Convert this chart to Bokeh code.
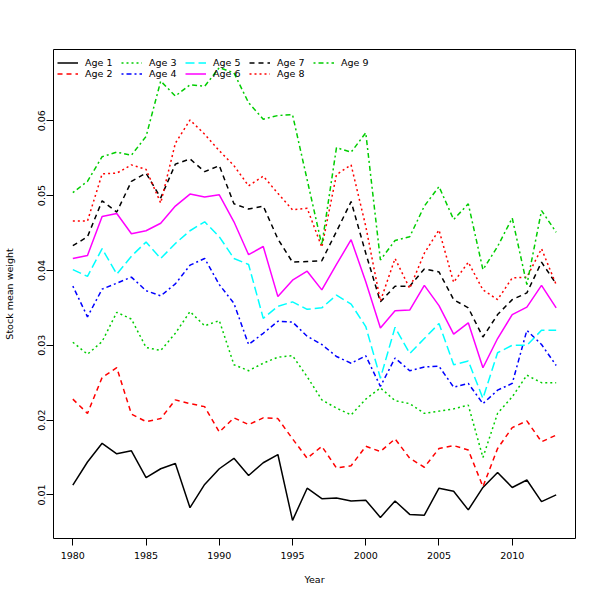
from bokeh.plotting import figure
from bokeh.models import Range1d, FixedTicker, Legend, LegendItem, PrintfTickFormatter
from bokeh.embed import file_html
from bokeh.resources import INLINE

years = list(range(1980, 2014))

age1 = [0.0113, 0.0144, 0.0169, 0.0155, 0.0159, 0.0123, 0.0135, 0.0142, 0.0083, 0.0114,
        0.0135, 0.0149, 0.0126, 0.0143, 0.0154, 0.0066, 0.0109, 0.0095, 0.0096, 0.0092,
        0.0093, 0.0070, 0.0092, 0.0074, 0.0073, 0.0109, 0.0105, 0.0080, 0.0110, 0.0130,
        0.0110, 0.0120, 0.0091, 0.0100]
age2 = [0.0228, 0.0209, 0.0257, 0.0270, 0.0208, 0.0198, 0.0202, 0.0227, 0.0222, 0.0218,
        0.0184, 0.0203, 0.0194, 0.0203, 0.0202, 0.0175, 0.0149, 0.0165, 0.0136, 0.0139,
        0.0165, 0.0158, 0.0175, 0.0149, 0.0137, 0.0162, 0.0166, 0.0160, 0.0111, 0.0162,
        0.0190, 0.0199, 0.0171, 0.0180]
age3 = [0.0304, 0.0288, 0.0305, 0.0344, 0.0335, 0.0297, 0.0293, 0.0316, 0.0345, 0.0326,
        0.0333, 0.0274, 0.0266, 0.0276, 0.0284, 0.0286, 0.0258, 0.0227, 0.0216, 0.0207,
        0.0228, 0.0243, 0.0226, 0.0222, 0.0209, 0.0212, 0.0215, 0.0220, 0.0150, 0.0209,
        0.0231, 0.0260, 0.0250, 0.0250]
age4 = [0.0379, 0.0338, 0.0375, 0.0383, 0.0391, 0.0373, 0.0366, 0.0382, 0.0407, 0.0416,
        0.0381, 0.0356, 0.0301, 0.0316, 0.0332, 0.0331, 0.0312, 0.0301, 0.0285, 0.0276,
        0.0286, 0.0245, 0.0283, 0.0266, 0.0271, 0.0272, 0.0244, 0.0249, 0.0222, 0.0240,
        0.0249, 0.0320, 0.0301, 0.0273]
age5 = [0.0401, 0.0392, 0.0429, 0.0395, 0.0419, 0.0438, 0.0416, 0.0436, 0.0453, 0.0465,
        0.0445, 0.0416, 0.0408, 0.0336, 0.0352, 0.0358, 0.0348, 0.0350, 0.0367, 0.0355,
        0.0325, 0.0256, 0.0324, 0.0289, 0.0309, 0.0329, 0.0274, 0.0279, 0.0229, 0.0290,
        0.0300, 0.0300, 0.0320, 0.0320]
age6 = [0.0416, 0.0420, 0.0472, 0.0476, 0.0449, 0.0453, 0.0463, 0.0486, 0.0502, 0.0498,
        0.0501, 0.0465, 0.0421, 0.0432, 0.0365, 0.0387, 0.0399, 0.0374, 0.0408, 0.0441,
        0.0385, 0.0323, 0.0346, 0.0347, 0.0380, 0.0353, 0.0315, 0.0330, 0.0270, 0.0309,
        0.0341, 0.0351, 0.0380, 0.0350]
age7 = [0.0433, 0.0445, 0.0493, 0.0478, 0.0519, 0.0530, 0.0497, 0.0542, 0.0549, 0.0532,
        0.0540, 0.0489, 0.0482, 0.0486, 0.0442, 0.0411, 0.0412, 0.0413, 0.0452, 0.0492,
        0.0423, 0.0358, 0.0379, 0.0379, 0.0402, 0.0398, 0.0361, 0.0350, 0.0311, 0.0341,
        0.0361, 0.0370, 0.0411, 0.0382]
age8 = [0.0466, 0.0466, 0.0529, 0.0530, 0.0541, 0.0535, 0.0490, 0.0570, 0.0601, 0.0582,
        0.0560, 0.0540, 0.0513, 0.0526, 0.0503, 0.0481, 0.0483, 0.0431, 0.0528, 0.0541,
        0.0459, 0.0359, 0.0416, 0.0376, 0.0423, 0.0454, 0.0384, 0.0411, 0.0374, 0.0361,
        0.0390, 0.0391, 0.0429, 0.0381]
age9 = [0.0504, 0.0519, 0.0552, 0.0558, 0.0554, 0.0579, 0.0653, 0.0633, 0.0648, 0.0646,
        0.0671, 0.0664, 0.0624, 0.0602, 0.0607, 0.0608, 0.0521, 0.0434, 0.0564, 0.0558,
        0.0584, 0.0414, 0.0440, 0.0445, 0.0486, 0.0512, 0.0468, 0.0489, 0.0401, 0.0432,
        0.0470, 0.0381, 0.0480, 0.0451]

series = [age1, age2, age3, age4, age5, age6, age7, age8, age9]
labels = ["Age 1", "Age 2", "Age 3", "Age 4", "Age 5", "Age 6", "Age 7", "Age 8", "Age 9"]
x_ticks = [1980, 1985, 1990, 1995, 2000, 2005, 2010]
y_ticks = [0.01, 0.02, 0.03, 0.04, 0.05, 0.06]

palette = ["#000000", "#FF0000", "#00CD00", "#0000FF", "#00FFFF", "#FF00FF"]
dashes = ["solid", "5 4", "2 3", "2 3 5 3", "9 4"]

FONT = "DejaVu Sans"

xmin, xmax = min(years), max(years)
allv = [v for s in series for v in s]
ymin, ymax = min(allv), max(allv)
xpad = 0.04 * (xmax - xmin)
ypad = 0.04 * (ymax - ymin)

p = figure(width=600, height=600, output_backend="svg", toolbar_location=None,
           x_range=Range1d(xmin - xpad, xmax + xpad),
           y_range=Range1d(ymin - ypad, ymax + ypad),
           min_border_left=49, min_border_right=25, min_border_top=49, min_border_bottom=62)
p.background_fill_color = "white"
p.border_fill_color = "white"
p.outline_line_color = "black"
p.outline_line_width = 1
p.xgrid.visible = False
p.ygrid.visible = False

renderers = []
for i, s in enumerate(series):
    r = p.line(years, s, line_color=palette[i % 6], line_dash=dashes[i % 5], line_width=1.5)
    renderers.append(r)

for ax in (p.xaxis[0], p.yaxis[0]):
    ax.axis_line_color = None
    ax.major_tick_line_color = "black"
    ax.major_tick_in = 0
    ax.major_tick_out = 7
    ax.minor_tick_line_color = None
    ax.major_label_text_font = FONT
    ax.major_label_text_font_size = "9.5px"
    ax.major_label_text_color = "black"
    ax.axis_label_text_font = FONT
    ax.axis_label_text_font_size = "9.5px"
    ax.axis_label_text_font_style = "normal"
    ax.axis_label_text_color = "black"

p.xaxis.ticker = FixedTicker(ticks=x_ticks)
p.xaxis.formatter = PrintfTickFormatter(format="%d")
p.xaxis.axis_label = "Year"
p.xaxis.major_label_standoff = 6
p.xaxis.axis_label_standoff = 12

p.yaxis.ticker = FixedTicker(ticks=y_ticks)
p.yaxis.formatter = PrintfTickFormatter(format="%.2f")
p.yaxis.axis_label = "Stock mean weight"
p.yaxis.major_label_orientation = "vertical"
p.yaxis.major_label_standoff = 1
p.yaxis.axis_label_standoff = 21

# legend: 5 columns, filled column-wise (2 rows)
col_x = [4, 68, 132, 196, 260]
for c in range(5):
    idx = [k for k in (2 * c, 2 * c + 1) if k < len(series)]
    items = [LegendItem(label=labels[k], renderers=[renderers[k]]) for k in idx]
    n = len(idx)
    leg = Legend(items=items, location=(col_x[c], 489 - 7.5 - 11.3 * n),
                 orientation="vertical", padding=0, margin=0, spacing=0,
                 glyph_width=21, glyph_height=11, label_height=11, label_standoff=7,
                 label_text_font=FONT, label_text_font_size="9.5px",
                 label_text_color="black", label_text_baseline="middle",
                 border_line_color=None, background_fill_alpha=0)
    p.add_layout(leg, "center")

open("out.html", "w").write(file_html(p, INLINE))
